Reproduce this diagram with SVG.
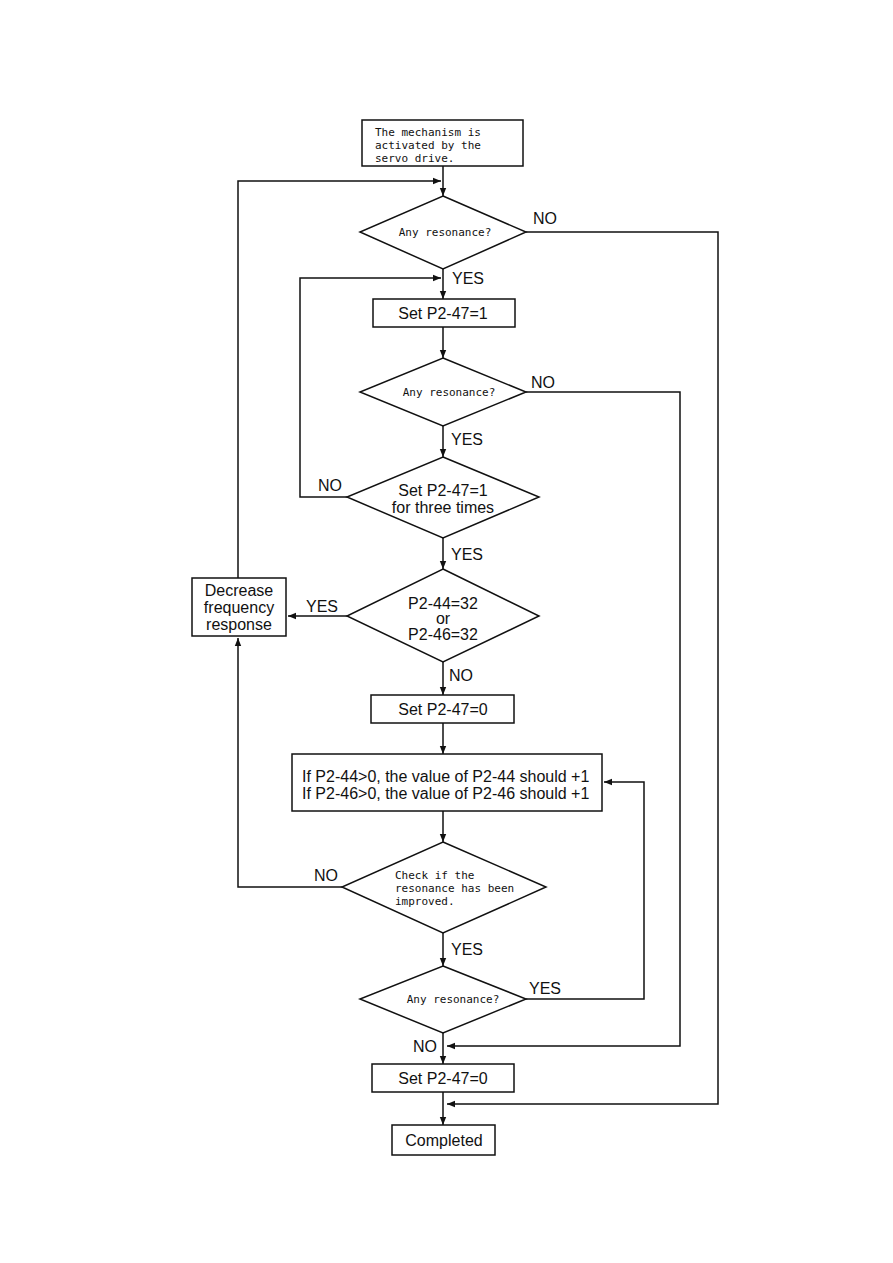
<svg xmlns="http://www.w3.org/2000/svg" width="893" height="1263" viewBox="0 0 893 1263">
<style>
.n{fill:#fff;stroke:#111;stroke-width:1.5}
.c{fill:none;stroke:#111;stroke-width:1.5}
.s{font-family:"Liberation Sans",Arial,sans-serif;font-size:16px;fill:#111}
.m{font-family:"DejaVu Sans Mono","Liberation Mono",monospace;font-size:11px;fill:#111}
.mid{text-anchor:middle}
</style>
<defs>
<marker id="a" viewBox="0 0 10 10" refX="10" refY="5" markerWidth="8" markerHeight="8" markerUnits="userSpaceOnUse" orient="auto">
<path d="M0,1 L10,5 L0,9 Z" fill="#111"/>
</marker>
</defs>
<rect width="893" height="1263" fill="#fff"/>
<g id="connectors">
<path class="c" d="M443,166 V196" marker-end="url(#a)"/>
<path class="c" d="M238,578 V181 H441" marker-end="url(#a)"/>
<path class="c" d="M526,232 H718 V1104 H447" marker-end="url(#a)"/>
<path class="c" d="M443,269 V299" marker-end="url(#a)"/>
<path class="c" d="M347,497 H300 V278 H441" marker-end="url(#a)"/>
<path class="c" d="M443,327 V358" marker-end="url(#a)"/>
<path class="c" d="M526,392 H680 V1046 H447" marker-end="url(#a)"/>
<path class="c" d="M443,426 V457" marker-end="url(#a)"/>
<path class="c" d="M443,538 V569" marker-end="url(#a)"/>
<path class="c" d="M347,616 H288" marker-end="url(#a)"/>
<path class="c" d="M443,662 V695" marker-end="url(#a)"/>
<path class="c" d="M443,723 V754" marker-end="url(#a)"/>
<path class="c" d="M443,811 V842" marker-end="url(#a)"/>
<path class="c" d="M342,887 H238 V638" marker-end="url(#a)"/>
<path class="c" d="M443,933 V966" marker-end="url(#a)"/>
<path class="c" d="M526,999 H644 V782 H604" marker-end="url(#a)"/>
<path class="c" d="M443,1033 V1064" marker-end="url(#a)"/>
<path class="c" d="M443,1092 V1125" marker-end="url(#a)"/>
<text class="s" x="533" y="224">NO</text>
<text class="s" x="452" y="284">YES</text>
<text class="s" x="531" y="388">NO</text>
<text class="s" x="451" y="445">YES</text>
<text class="s" x="318" y="491">NO</text>
<text class="s" x="451" y="560">YES</text>
<text class="s" x="306" y="612">YES</text>
<text class="s" x="449" y="681">NO</text>
<text class="s" x="314" y="881">NO</text>
<text class="s" x="451" y="955">YES</text>
<text class="s" x="529" y="994">YES</text>
<text class="s" x="413" y="1052">NO</text>
</g>
<g id="start">
<rect class="n" x="362" y="120" width="161" height="46"/>
<text class="m" x="375" y="136">The mechanism is</text>
<text class="m" x="375" y="149">activated by the</text>
<text class="m" x="375" y="162">servo drive.</text>
</g>
<g id="d1">
<polygon class="n" points="443,196 526,232 443,269 360,232"/>
<text class="m mid" x="445" y="236">Any resonance?</text>
</g>
<g id="b1">
<rect class="n" x="373" y="299" width="142" height="28"/>
<text class="s mid" x="443" y="319">Set P2-47=1</text>
</g>
<g id="d2">
<polygon class="n" points="443,358 526,392 443,426 360,392"/>
<text class="m mid" x="449" y="396">Any resonance?</text>
</g>
<g id="d3">
<polygon class="n" points="443,457 539,497 443,538 347,497"/>
<text class="s mid" x="443" y="496">Set P2-47=1</text>
<text class="s mid" x="443" y="513">for three times</text>
</g>
<g id="d4">
<polygon class="n" points="443,569 539,616 443,662 347,616"/>
<text class="s mid" x="443" y="609">P2-44=32</text>
<text class="s mid" x="443" y="624">or</text>
<text class="s mid" x="443" y="640">P2-46=32</text>
</g>
<g id="dec">
<rect class="n" x="192" y="578" width="94" height="58"/>
<text class="s mid" x="239" y="596">Decrease</text>
<text class="s mid" x="239" y="613">frequency</text>
<text class="s mid" x="239" y="630">response</text>
</g>
<g id="b2">
<rect class="n" x="371" y="695" width="143" height="28"/>
<text class="s mid" x="443" y="715">Set P2-47=0</text>
</g>
<g id="b3">
<rect class="n" x="292" y="754" width="310" height="57"/>
<text class="s" x="302" y="782">If P2-44&gt;0, the value of P2-44 should +1</text>
<text class="s" x="302" y="799">If P2-46&gt;0, the value of P2-46 should +1</text>
</g>
<g id="d5">
<polygon class="n" points="443,842 546,887 443,933 342,887"/>
<text class="m" x="395" y="879">Check if the</text>
<text class="m" x="395" y="892">resonance has been</text>
<text class="m" x="395" y="905">improved.</text>
</g>
<g id="d6">
<polygon class="n" points="443,966 526,999 443,1033 360,999"/>
<text class="m mid" x="453" y="1003">Any resonance?</text>
</g>
<g id="b4">
<rect class="n" x="372" y="1064" width="142" height="28"/>
<text class="s mid" x="443" y="1084">Set P2-47=0</text>
</g>
<g id="end">
<rect class="n" x="392" y="1125" width="103" height="30"/>
<text class="s mid" x="444" y="1146">Completed</text>
</g>
</svg>
